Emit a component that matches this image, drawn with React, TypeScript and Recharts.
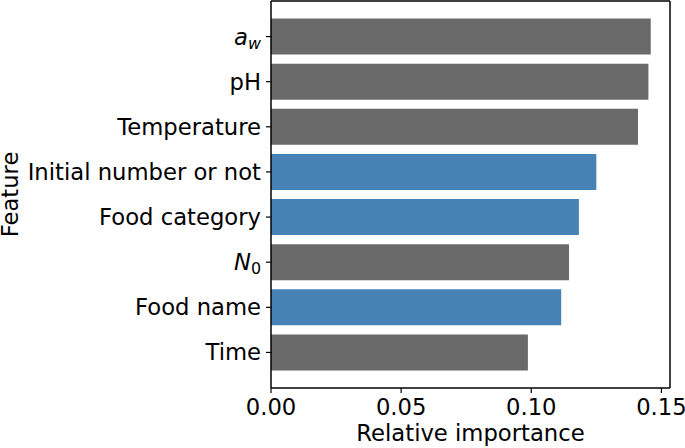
import React from 'react';
import { BarChart, Bar, XAxis, YAxis, Cell } from 'recharts';

const features = ['a_w', 'pH', 'Temperature', 'Initial number or not', 'Food category', 'N_0', 'Food name', 'Time'];
const importance = [0.1459, 0.145, 0.141, 0.125, 0.1183, 0.1145, 0.1115, 0.0987];
const groups = ['condition', 'condition', 'condition', 'data', 'data', 'condition', 'data', 'condition'];
const xTicks = [0, 0.05, 0.1, 0.15];

const groupColor: Record<string, string> = { condition: '#696969', data: '#4682b4' };
const FONT = 'DejaVu Sans';
const FS = 22.7;

const data = features.map((name, i) => ({ name, value: importance[i], group: groups[i] }));

const YTick = (props: any) => {
  const { x, y, payload } = props;
  const v = payload.value as string;
  let content: React.ReactNode = v;
  if (v === 'a_w') {
    content = [
      <tspan key="a" fontStyle="italic">a</tspan>,
      <tspan key="w" fontStyle="italic" fontSize={FS * 0.7} dy={4}>w</tspan>,
    ];
  } else if (v === 'N_0') {
    content = [
      <tspan key="n" fontStyle="italic">N</tspan>,
      <tspan key="0" fontSize={FS * 0.7} dy={4}>0</tspan>,
    ];
  }
  return (
    <text x={x} y={y} dy="0.35em" textAnchor="end" fill="#000" fontSize={FS} fontFamily={FONT}>
      {content}
    </text>
  );
};

export default function App() {
  return (
    <div style={{ position: 'absolute', left: 0, top: 0, background: '#fff' }}>
      <BarChart
        width={685}
        height={448}
        data={data}
        layout="vertical"
        margin={{ top: 0, right: 14, left: 0, bottom: 0 }}
        barCategoryGap="10%"
      >
        <XAxis
          type="number"
          domain={[0, 0.1533]}
          ticks={xTicks}
          tickFormatter={(v: number) => v.toFixed(2)}
          height={60}
          tickSize={5}
          tickMargin={6}
          axisLine={{ stroke: '#000', strokeWidth: 1.5 }}
          tickLine={{ stroke: '#000', strokeWidth: 1.2 }}
          tick={{ fill: '#000', fontSize: FS, fontFamily: FONT }}
          allowDataOverflow
          label={{
            content: (p: any) => {
              const vb = p.viewBox;
              return (
                <text x={vb.x + vb.width / 2} y={441} textAnchor="middle" fill="#000" fontSize={FS} fontFamily={FONT}>
                  Relative importance
                </text>
              );
            },
          }}
        />
        <XAxis
          xAxisId="top"
          orientation="top"
          type="number"
          domain={[0, 0.1533]}
          height={1}
          tick={false}
          tickLine={false}
          axisLine={{ stroke: '#000', strokeWidth: 1.5 }}
        />
        <YAxis
          type="category"
          dataKey="name"
          width={271}
          padding={{ top: 13, bottom: 13 }}
          tickSize={5}
          tickMargin={5}
          axisLine={{ stroke: '#000', strokeWidth: 1.5 }}
          tickLine={{ stroke: '#000', strokeWidth: 1.2 }}
          tick={<YTick />}
          interval={0}
          label={{
            content: (p: any) => {
              const vb = p.viewBox;
              const cy = vb.y + vb.height / 2;
              return (
                <text x={18} y={cy} transform={`rotate(-90 18 ${cy})`} textAnchor="middle" fill="#000" fontSize={FS} fontFamily={FONT}>
                  Feature
                </text>
              );
            },
          }}
        />
        <YAxis
          yAxisId="right"
          orientation="right"
          type="category"
          dataKey="name"
          width={1}
          tick={false}
          tickLine={false}
          axisLine={{ stroke: '#000', strokeWidth: 1.5 }}
        />
        <Bar dataKey="value" isAnimationActive={false}>
          {data.map((d, i) => (
            <Cell key={i} fill={groupColor[d.group]} />
          ))}
        </Bar>
      </BarChart>
    </div>
  );
}
